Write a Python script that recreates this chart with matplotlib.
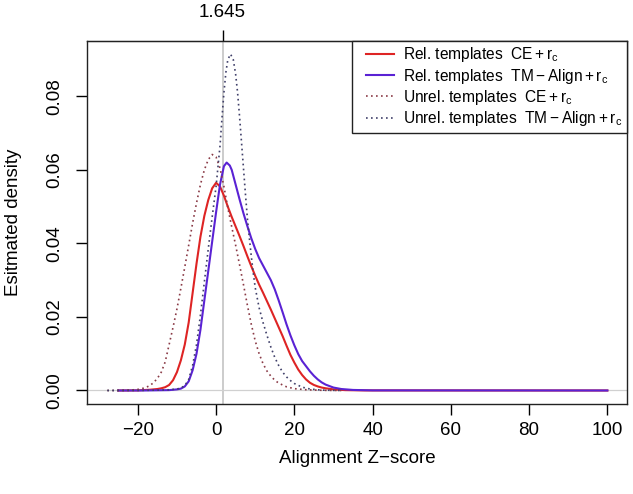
import matplotlib
matplotlib.use('Agg')
import matplotlib.pyplot as plt
from matplotlib.legend_handler import HandlerLine2D

plt.rcParams['font.family'] = ['Liberation Sans', 'DejaVu Sans']
plt.rcParams['mathtext.fontset'] = 'custom'
plt.rcParams['mathtext.rm'] = 'Liberation Sans'
plt.rcParams['mathtext.it'] = 'Liberation Sans'
plt.rcParams['axes.unicode_minus'] = True

# density curves (x = Z-score, y = estimated density)
rel_ce_x = [-25, -20, -17, -15, -14, -13, -12, -11, -10, -9, -8, -7, -6, -5, -4, -3, -2, -1,
            0, 1, 2, 3, 4, 5, 6, 7, 8, 9, 10, 11, 12, 13, 14, 15, 16, 17, 18, 19, 20, 21,
            22, 23, 24, 25, 26, 27, 28, 30, 33, 38, 100]
rel_ce_y = [0, 0.00003, 0.0002, 0.0004, 0.0006, 0.0009, 0.0015, 0.0028, 0.0050, 0.0082,
            0.0125, 0.0185, 0.0265, 0.0345, 0.0418, 0.0475, 0.0518, 0.0550, 0.0565, 0.0555,
            0.0530, 0.0500, 0.0472, 0.0446, 0.0420, 0.0393, 0.0365, 0.0338, 0.0312, 0.0288,
            0.0266, 0.0243, 0.0220, 0.0196, 0.0172, 0.0148, 0.0122, 0.0097, 0.0076, 0.0057,
            0.0042, 0.0030, 0.0021, 0.0015, 0.0011, 0.0008, 0.0006, 0.0003, 0.0001, 0.00002, 0]

rel_tm_x = [-25, -18, -12, -11, -10, -9, -8, -7, -6, -5, -4, -3, -2, -1, 0, 1, 2, 2.7, 3.5,
            4, 5, 6, 7, 8, 9, 10, 11, 12, 13, 14, 15, 16, 17, 18, 19, 20, 21, 22, 23, 24,
            25, 26, 27, 28, 30, 32, 35, 40, 100]
rel_tm_y = [0, 0.00001, 0.0001, 0.0002, 0.0003, 0.0005, 0.0011, 0.0025, 0.0055, 0.0100,
            0.0165, 0.0245, 0.0325, 0.0405, 0.0485, 0.0560, 0.0610, 0.0620, 0.0612, 0.0600,
            0.0560, 0.0520, 0.0482, 0.0447, 0.0414, 0.0385, 0.0360, 0.0340, 0.0320, 0.0300,
            0.0275, 0.0245, 0.0213, 0.0180, 0.0150, 0.0123, 0.0099, 0.0080, 0.0066, 0.0052,
            0.0040, 0.0030, 0.0022, 0.0016, 0.0008, 0.0004, 0.00015, 0.00003, 0]

unrel_ce_x = [-27.8, -25, -22, -20, -19, -18, -17, -16, -15, -14, -13, -12, -11, -10, -9, -8,
              -7, -6, -5, -4, -3, -2, -1, 0, 1, 2, 3, 4, 5, 6, 7, 8, 9, 10, 11, 12, 13, 14,
              15, 16, 18, 20, 23, 27, 32]
unrel_ce_y = [0, 0.00002, 0.0001, 0.0003, 0.0005, 0.0008, 0.0013, 0.0021, 0.0033, 0.0050,
              0.0078, 0.0125, 0.0172, 0.0222, 0.0278, 0.0336, 0.0395, 0.0455, 0.0510, 0.0560,
              0.0600, 0.0628, 0.0642, 0.0635, 0.0605, 0.0555, 0.0497, 0.0445, 0.0395, 0.0342,
              0.0288, 0.0232, 0.0180, 0.0135, 0.0100, 0.0073, 0.0053, 0.0039, 0.0028, 0.0020,
              0.0010, 0.0005, 0.0002, 0.00005, 0]

unrel_tm_x = [-27.8, -20, -15, -12, -10, -9, -8, -7, -6, -5, -4, -3, -2, -1, 0, 1, 1.5, 2,
              2.5, 3, 3.7, 4.4, 5, 5.5, 6, 6.5, 7, 7.5, 8, 8.5, 9, 9.5, 10, 11, 12, 13, 14,
              15, 16, 17, 18, 19, 20, 22, 24, 27, 32]
unrel_tm_y = [0, 0.00002, 0.0001, 0.0002, 0.0004, 0.0007, 0.0013, 0.0030, 0.0068, 0.0125,
              0.0205, 0.0295, 0.0385, 0.0472, 0.0555, 0.0665, 0.0740, 0.0810, 0.0865, 0.0900,
              0.0915, 0.0900, 0.0860, 0.0810, 0.0745, 0.0675, 0.0605, 0.0535, 0.0468, 0.0415,
              0.0365, 0.0320, 0.0280, 0.0225, 0.0185, 0.0150, 0.0118, 0.0090, 0.0068, 0.0050,
              0.0037, 0.0027, 0.0019, 0.0009, 0.0004, 0.0001, 0]

cutoff = 1.645


class IndentedLine(HandlerLine2D):
    # legend sample that starts a bit to the right, like R's legend box
    shift = 6.9

    def create_artists(self, legend, orig_handle, xdescent, ydescent, width, height,
                       fontsize, trans):
        return super().create_artists(legend, orig_handle, xdescent - self.shift, ydescent,
                                      width - self.shift, height, fontsize, trans)


fig = plt.figure(figsize=(6.33, 4.94), dpi=100)
ax = fig.add_axes([0.138, 0.182, 0.853, 0.736])

ax.axvline(cutoff, color='#BEBEBE', lw=1.1, zorder=1)
ax.axhline(0, color='#D0D0D0', lw=0.9, zorder=1)

l1, = ax.plot(rel_ce_x, rel_ce_y, color='#DE2424', lw=1.5,
              label=r'Rel. templates  $\mathrm{CE}+\mathrm{r_c}$')
l2, = ax.plot(rel_tm_x, rel_tm_y, color='#5A22D4', lw=1.5,
              label=r'Rel. templates  $\mathrm{TM}-\mathrm{Align}+\mathrm{r_c}$')
l3, = ax.plot(unrel_ce_x, unrel_ce_y, color='#8A3A46', lw=1.2, linestyle=(0, (1, 2)),
              label=r'Unrel. templates  $\mathrm{CE}+\mathrm{r_c}$')
l4, = ax.plot(unrel_tm_x, unrel_tm_y, color='#40406A', lw=1.2, linestyle=(0, (1, 2)),
              label=r'Unrel. templates  $\mathrm{TM}-\mathrm{Align}+\mathrm{r_c}$')

ax.set_xlim(-32.9, 105.1)
ax.set_ylim(-0.0037, 0.0952)
ax.set_xticks([-20, 0, 20, 40, 60, 80, 100])
ax.set_yticks([0.0, 0.02, 0.04, 0.06, 0.08])
ax.set_yticklabels(['0.00', '0.02', '0.04', '0.06', '0.08'], rotation=90, va='center')
ax.tick_params(axis='both', direction='out', length=8, width=1, labelsize=13.5)
ax.tick_params(axis='x', pad=5)
ax.tick_params(axis='y', pad=9)

for s in ax.spines.values():
    s.set_linewidth(1.0)
    s.set_color('#222222')

top = ax.secondary_xaxis('top')
top.set_xticks([cutoff])
top.set_xticklabels(['1.645'])
top.tick_params(direction='out', length=8, width=1, labelsize=13.5, pad=6)

ax.set_xlabel('Alignment Z\u2212score', fontsize=13.5, labelpad=8)
ax.set_ylabel('Esitmated density', fontsize=13.5, labelpad=18)

hm = {h: IndentedLine() for h in (l1, l2, l3, l4)}
leg = ax.legend(loc='upper right', borderaxespad=0, fancybox=False, edgecolor='#222222',
                framealpha=1, fontsize=11.2, handlelength=2.42, handletextpad=0.6,
                labelspacing=0.15, borderpad=0.3, handler_map=hm)
leg.get_frame().set_linewidth(1.0)

fig.savefig('out.png', dpi=100)
